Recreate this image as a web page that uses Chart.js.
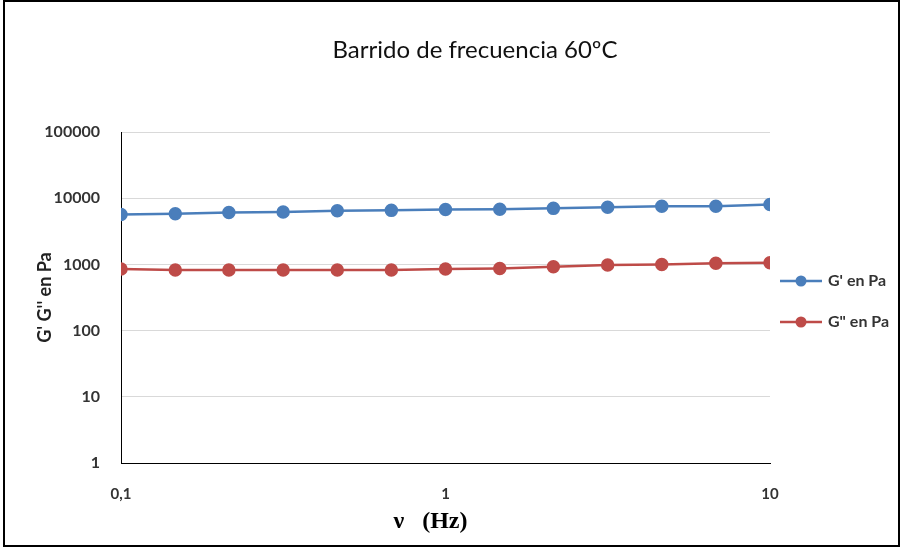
<!DOCTYPE html>
<html>
<head>
<meta charset="utf-8">
<script src="https://cdn.jsdelivr.net/npm/chart.js"></script>
<style>
  html, body { margin: 0; padding: 0; background: #fff; }
</style>
</head>
<body>
<canvas id="chart" width="903" height="548"></canvas>
<script>
const chartTitle = "Barrido de frecuencia 60ºC";
const seriesNames = ["G' en Pa", "G\" en Pa"];
const frequencies = [0.1, 0.147, 0.215, 0.316, 0.464, 0.681, 1, 1.47, 2.15, 3.16, 4.64, 6.81, 10];
const gPrime = [5670, 5840, 6080, 6190, 6480, 6550, 6750, 6830, 7020, 7300, 7570, 7570, 8030];
const gDoublePrime = [850, 825, 825, 825, 825, 825, 850, 870, 920, 980, 1000, 1040, 1060];
const yTicks = [1, 10, 100, 1000, 10000, 100000];
const xTicks = [0.1, 1, 10];
const xTickLabels = ["0,1", "1", "10"];

const blue = "#4a7ebb";
const red = "#be4b48";
const colors = [blue, red];

// title, legend on the right and the outer frame
const decorPlugin = {
  id: "decor",
  afterDraw(chart) {
    const ctx = chart.ctx;
    const area = chart.chartArea;
    ctx.save();
    ctx.fillStyle = "#111";
    ctx.font = "24px Lato";
    ctx.textAlign = "center";
    ctx.textBaseline = "middle";
    ctx.fillText(chartTitle, 475, 50);

    // legend: line with dot, then the name
    chart.data.datasets.forEach((ds, i) => {
      const y = 281 + i * 41;
      const x0 = area.right + 10;
      ctx.strokeStyle = ds.borderColor;
      ctx.lineWidth = 2.5;
      ctx.beginPath();
      ctx.moveTo(x0, y);
      ctx.lineTo(x0 + 42, y);
      ctx.stroke();
      ctx.fillStyle = ds.borderColor;
      ctx.beginPath();
      ctx.arc(x0 + 21, y, 5.5, 0, Math.PI * 2);
      ctx.fill();
      ctx.fillStyle = "#333";
      ctx.font = "bold 16px Lato";
      ctx.textAlign = "left";
      ctx.fillText(ds.label, x0 + 48, y);
    });

    ctx.strokeStyle = "#000";
    ctx.lineWidth = 2;
    ctx.strokeRect(4, 1, 895, 545);
    ctx.restore();
  }
};

const ctx = document.getElementById("chart").getContext("2d");

new Chart(ctx, {
  type: "line",
  data: {
    labels: frequencies,
    datasets: [gPrime, gDoublePrime].map((vals, k) => ({
      label: seriesNames[k],
      data: frequencies.map((f, i) => ({ x: f, y: vals[i] })),
      borderColor: colors[k],
      backgroundColor: colors[k],
      borderWidth: 2.5,
      pointRadius: 5.5,
      pointBackgroundColor: colors[k],
      pointBorderColor: colors[k],
      tension: 0
    }))
  },
  options: {
    responsive: false,
    animation: false,
    devicePixelRatio: 1,
    layout: { padding: { top: 132, right: 133, bottom: 0, left: 0 } },
    plugins: {
      title: { display: false },
      tooltip: { enabled: false },
      legend: { display: false }
    },
    scales: {
      x: {
        type: "logarithmic",
        min: 0.1,
        max: 10,
        grid: { display: false },
        border: { display: true, color: "#000", width: 1 },
        afterBuildTicks: (s) => { s.ticks = xTicks.map(v => ({ value: v })); },
        afterFit: (s) => { s.height = 85; },
        ticks: {
          padding: 14,
          color: "#333",
          font: { family: "Lato", size: 15, weight: "bold" },
          maxRotation: 0,
          callback: (v) => xTickLabels[xTicks.indexOf(v)]
        },
        title: {
          display: true,
          text: "ν   (Hz)     ",
          color: "#000",
          font: { family: "Liberation Serif", size: 24, weight: "bold" },
          padding: { top: 0, bottom: 12 }
        }
      },
      y: {
        type: "logarithmic",
        min: 1,
        max: 100000,
        grid: { color: "#d9d9d9", drawTicks: false },
        border: { display: true, color: "#000", width: 1 },
        afterBuildTicks: (s) => { s.ticks = yTicks.map(v => ({ value: v })); },
        afterFit: (s) => { s.width = 121; },
        ticks: {
          padding: 21,
          color: "#333",
          font: { family: "Lato", size: 16, weight: "bold" },
          callback: (v) => String(v)
        },
        title: {
          display: true,
          text: "G' G'' en Pa",
          color: "#222",
          font: { family: "Lato", size: 18, weight: "bold" },
          padding: { top: 34, bottom: 0 }
        }
      }
    }
  },
  plugins: [decorPlugin]
});
</script>
</body>
</html>
